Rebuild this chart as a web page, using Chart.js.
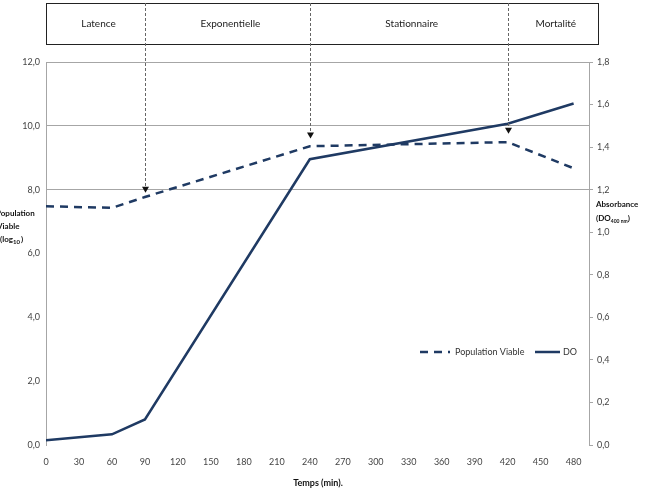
<!DOCTYPE html>
<html>
<head>
<meta charset="utf-8">
<script src="https://cdn.jsdelivr.net/npm/chart.js@4/dist/chart.umd.min.js"></script>
<style>
  html, body { margin: 0; padding: 0; background: #fff; }
  #wrap { width: 645px; height: 496px; }
</style>
</head>
<body>
<div id="wrap"><canvas id="growthChart" width="645" height="496"></canvas></div>
<script>
// data
const times = [0, 60, 90, 240, 420, 480];
const viable = [7.48, 7.43, 7.77, 9.36, 9.49, 8.67];   // log10, left axis
const absorbance = [0.022, 0.05, 0.12, 1.343, 1.51, 1.605]; // DO, right axis
const xTicks = [0, 30, 60, 90, 120, 150, 180, 210, 240, 270, 300, 330, 360, 390, 420, 450, 480];
const phases = ['Latence', 'Exponentielle', 'Stationnaire', 'Mortalité'];
const phaseBounds = [90, 240, 420];
const arrowTips = [7.9, 9.6, 9.75];

const navy = '#1f3a63';
const font = 'Lato, "Open Sans", sans-serif';

function comma(v, d) {
    return Number(v).toFixed(d).replace('.', ',');
}

const overlay = {
    id: 'overlay',
    afterDraw(chart) {
        const ctx = chart.ctx;
        const x = chart.scales.x;
        const y = chart.scales.y;
        const area = chart.chartArea;
        const boxRight = 598;

        ctx.save();
        // phase box
        ctx.strokeStyle = '#222';
        ctx.lineWidth = 1;
        ctx.strokeRect(area.left + 0.5, 3.5, boxRight - area.left, 41);
        const edges = [area.left].concat(phaseBounds.map(t => x.getPixelForValue(t))).concat([boxRight]);
        ctx.fillStyle = '#222';
        ctx.font = '10px ' + font;
        ctx.textAlign = 'center';
        ctx.textBaseline = 'middle';
        phases.forEach((p, i) => {
            ctx.fillText(p, (edges[i] + edges[i + 1]) / 2 + 3, 24);
        });

        // arrows
        phaseBounds.forEach((t, i) => {
            const px = Math.round(x.getPixelForValue(t)) + 0.5;
            const tip = y.getPixelForValue(arrowTips[i]);
            ctx.strokeStyle = '#666';
            ctx.lineWidth = 1;
            ctx.setLineDash([3, 2]);
            ctx.beginPath();
            ctx.moveTo(px, 3);
            ctx.lineTo(px, tip - 5);
            ctx.stroke();
            ctx.setLineDash([]);
            ctx.fillStyle = '#111';
            ctx.beginPath();
            ctx.moveTo(px - 3.5, tip - 6);
            ctx.lineTo(px + 3.5, tip - 6);
            ctx.lineTo(px, tip);
            ctx.closePath();
            ctx.fill();
        });

        // legend
        const ly = 352;
        ctx.strokeStyle = navy;
        ctx.lineWidth = 2.5;
        ctx.setLineDash([8, 6]);
        ctx.beginPath();
        ctx.moveTo(420, ly);
        ctx.lineTo(450, ly);
        ctx.stroke();
        ctx.setLineDash([]);
        ctx.beginPath();
        ctx.moveTo(535, ly);
        ctx.lineTo(560, ly);
        ctx.stroke();
        ctx.fillStyle = '#333';
        ctx.font = '9px ' + font;
        ctx.textAlign = 'left';
        ctx.fillText('Population Viable', 455, ly);
        ctx.fillText('DO', 563, ly);

        // axis titles
        ctx.fillStyle = '#111';
        ctx.font = 'bold 8px ' + font;
        ctx.fillText('Population', -4, 213);
        ctx.fillText('Viable', -3, 226);
        ctx.fillText('(log', 0, 239);
        let w = ctx.measureText('(log').width;
        ctx.font = 'bold 6px ' + font;
        ctx.fillText('10', w, 242);
        let w2 = ctx.measureText('10').width;
        ctx.font = 'bold 8px ' + font;
        ctx.fillText(')', w + w2 + 1, 239);

        ctx.fillText('Absorbance', 596, 204);
        ctx.fillText('(DO', 596, 218);
        w = ctx.measureText('(DO').width;
        ctx.font = 'bold 5px ' + font;
        ctx.fillText('400 nm', 596 + w, 221);
        w2 = ctx.measureText('400 nm').width;
        ctx.font = 'bold 8px ' + font;
        ctx.fillText(')', 596 + w + w2, 218);

        ctx.textAlign = 'center';
        ctx.font = 'bold 9px ' + font;
        ctx.fillText('Temps (min).', 318, 483);
        ctx.restore();
    }
};

const data = {
    datasets: [
        {
            label: 'Population Viable',
            data: times.map((t, i) => ({ x: t, y: viable[i] })),
            borderColor: navy,
            borderWidth: 2.5,
            borderDash: [8, 6],
            pointRadius: 0,
            yAxisID: 'y'
        },
        {
            label: 'DO',
            data: times.map((t, i) => ({ x: t, y: absorbance[i] })),
            borderColor: navy,
            borderWidth: 2.5,
            pointRadius: 0,
            yAxisID: 'y1'
        }
    ]
};

const config = {
    type: 'line',
    data: data,
    plugins: [overlay],
    options: {
        responsive: false,
        animation: false,
        layout: { padding: { top: 62, left: 0, right: 0, bottom: 0 } },
        plugins: {
            legend: { display: false },
            tooltip: { enabled: false }
        },
        scales: {
            x: {
                type: 'linear',
                min: 0,
                max: 494,
                afterBuildTicks: (s) => { s.ticks = xTicks.map(v => ({ value: v })); },
                afterFit: (s) => { s.height = 51; },
                grid: { display: false, drawTicks: false },
                border: { display: false },
                ticks: {
                    padding: 12,
                    color: '#444',
                    font: { family: font, size: 9 },
                    maxRotation: 0,
                    autoSkip: false
                }
            },
            y: {
                position: 'left',
                min: 0,
                max: 12,
                afterFit: (s) => { s.width = 46; },
                grid: {
                    color: (c) => (c.tick && c.tick.value >= 8 ? '#a6a6a6' : 'rgba(0,0,0,0)'),
                    drawTicks: false
                },
                border: { display: true, color: '#a6a6a6' },
                ticks: {
                    stepSize: 2,
                    padding: 6,
                    color: '#444',
                    font: { family: font, size: 9 },
                    callback: (v) => comma(v, 1)
                }
            },
            y1: {
                position: 'right',
                min: 0,
                max: 1.8,
                afterFit: (s) => { s.width = 56; },
                grid: { drawOnChartArea: false, tickLength: 4, color: '#a6a6a6' },
                border: { display: true, color: '#a6a6a6' },
                ticks: {
                    stepSize: 0.2,
                    padding: 4,
                    color: '#444',
                    font: { family: font, size: 9 },
                    callback: (v) => comma(v, 1)
                }
            }
        }
    }
};

new Chart(document.getElementById('growthChart'), config);
</script>
</body>
</html>
